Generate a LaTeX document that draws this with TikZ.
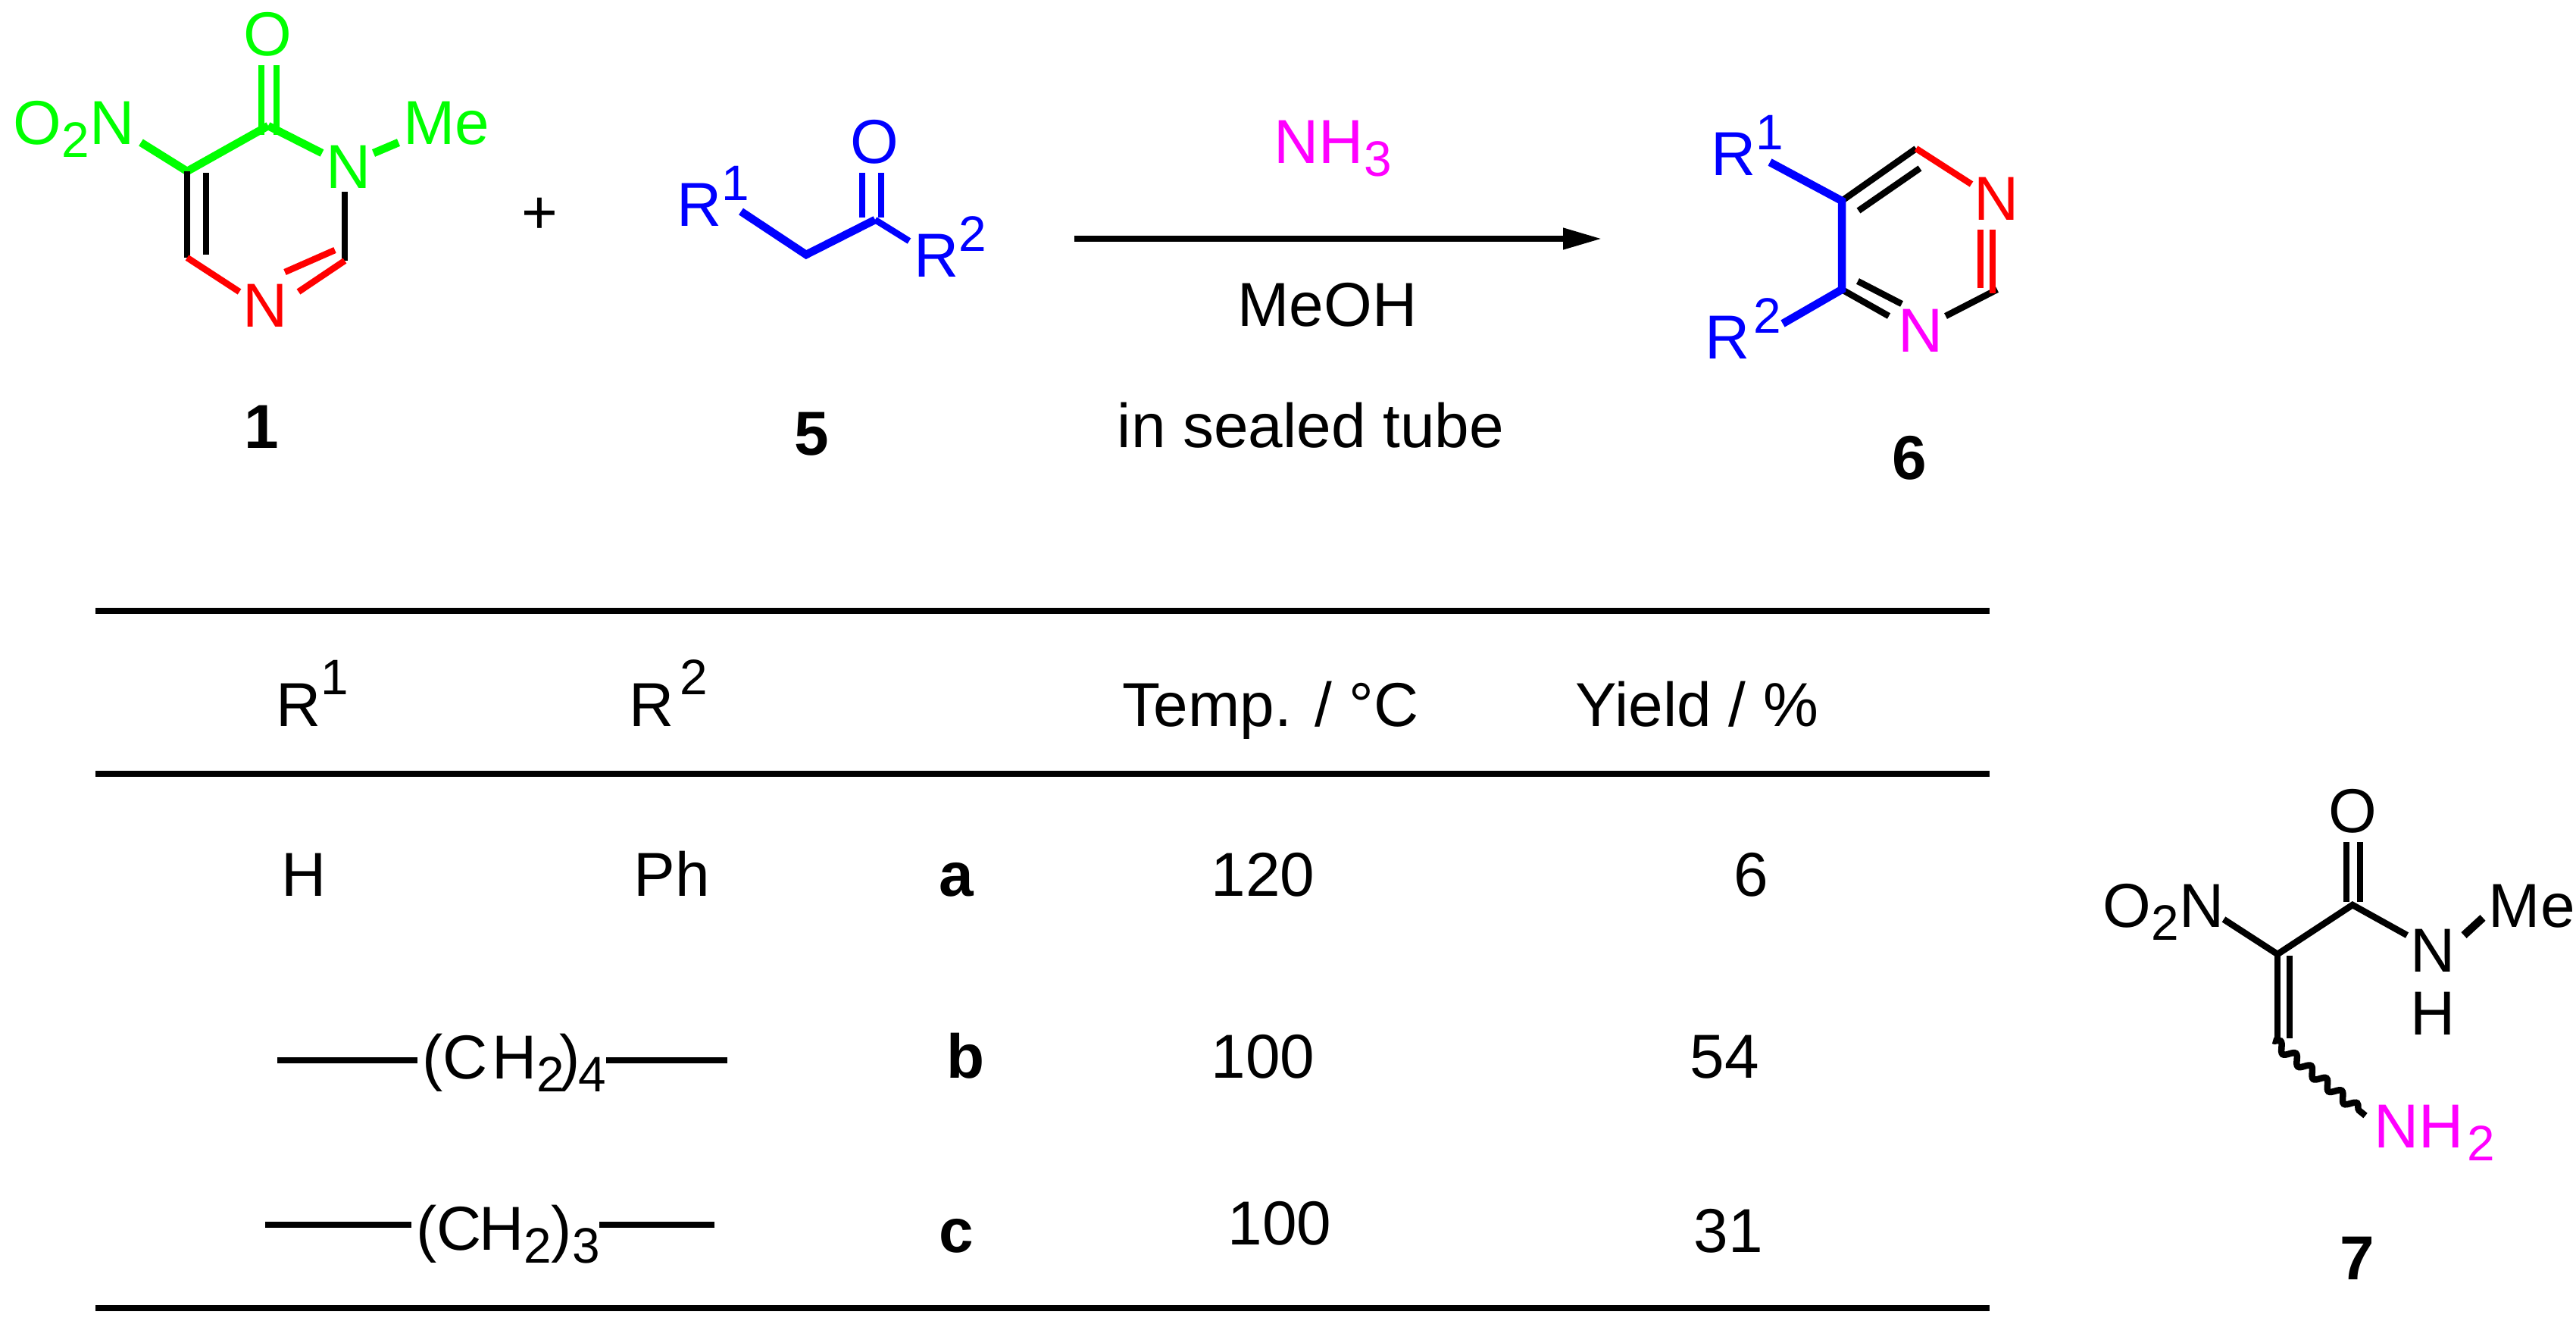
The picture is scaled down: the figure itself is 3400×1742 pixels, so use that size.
\documentclass[tikz,border=0pt]{standalone}
\usepackage{fontspec}
\setmainfont{Liberation Sans}
\usetikzlibrary{arrows.meta,decorations.pathmorphing}
\definecolor{amino}{RGB}{255,0,255}
\newcommand{\subnum}[1]{\raisebox{-0.21em}{\fontsize{18.7pt}{20pt}\selectfont #1}}
\newcommand{\supnum}[2][0.41em]{\raisebox{#1}{\fontsize{18.7pt}{20pt}\selectfont #2}}
\tikzset{
  chem/.style={font=\fontsize{23.3pt}{28pt}\selectfont,inner sep=0pt},
  num/.style={chem,font=\fontsize{23.3pt}{28pt}\selectfont\bfseries},
  bond/.style={line width=0.085cm},
  fatbond/.style={line width=0.105cm},
  rule/.style={line width=0.085cm}
}
\begin{document}
\begin{tikzpicture}[x=0.01cm,y=-0.01cm]
  \useasboundingbox (0,0) rectangle (3400,1742);

  % compound 1
  \node[chem,green,anchor=base west] (nitroA) at (17,190) {O\subnum{2}N};
  \node[chem,green,anchor=base] (oxoA) at (353,73) {O};
  \node[chem,green,anchor=base] (nA) at (460,248) {N};
  \node[chem,green,anchor=base west] (meA) at (532,190) {Me};
  \node[chem,red,anchor=base] (nB) at (350,431) {N};
  \coordinate (c5) at (247,226);
  \coordinate (c4) at (354,166);
  \coordinate (c6) at (247,340);
  \coordinate (c2) at (455,344);
  \draw[fatbond,green] (186,188) coordinate (nitroEnd) -- (c5) -- (c4);
  \draw[fatbond,green] (c4) -- (425,202) coordinate (nAend);
  \draw[bond,green] (345,86) coordinate (oxoL) -- (345,178) coordinate (oxoLb);
  \draw[bond,green] (365,86) coordinate (oxoR) -- (365,178) coordinate (oxoRb);
  \draw[fatbond,green] (493,202) coordinate (meS) -- (526,188) coordinate (meE);
  \draw[bond] (c5) -- (c6);
  \draw[bond] (272,228) coordinate (inA) -- (272,336) coordinate (inB);
  \draw[bond] (455,253) coordinate (c2top) -- (c2);
  \draw[bond,red] (c6) -- (316,385) coordinate (nBl);
  \draw[bond,red] (c2) -- (394,385) coordinate (nBr);
  \draw[bond,red] (442,330) coordinate (inC) -- (376,359) coordinate (inD);
  \node[num,anchor=base] (labA) at (345,591) {1};

  \node[chem,anchor=center] (plus) at (712,285) {+};

  % compound 5
  \node[chem,blue,anchor=base west] (rA) at (893,298) {R\supnum{1}};
  \node[chem,blue,anchor=base] (oxoB) at (1154,215) {O};
  \node[chem,blue,anchor=base west] (rB) at (1206,365) {R\supnum{2}};
  \coordinate (ch2) at (1064,336);
  \coordinate (co) at (1155,290);
  \draw[fatbond,blue] (978,279) coordinate (rAend) -- (ch2) -- (co);
  \draw[bond,blue] (co) -- (1200,318) coordinate (rBend);
  \draw[bond,blue] (1138,228) coordinate (oxoBl) -- (1138,287) coordinate (oxoBlb);
  \draw[bond,blue] (1163,228) coordinate (oxoBr) -- (1163,287) coordinate (oxoBrb);
  \node[num,anchor=base] (labB) at (1071,600) {5};

  % arrow and conditions
  \node[chem,amino,anchor=base west] (ammonia) at (1681,215) {NH\subnum{3}};
  \node[chem,anchor=base] (solvent) at (1752,430) {MeOH};
  \node[chem,anchor=base] (tube) at (1730,590) {in sealed tube};
  \coordinate (arrS) at (1418,315);
  \coordinate (arrE) at (2114,315);
  \draw[line width=0.075cm,-{Triangle[length=0.51cm,width=0.27cm]}] (arrS) -- (arrE);

  % compound 6
  \node[chem,blue,anchor=base west] (rC) at (2258,231) {R\supnum{1}};
  \node[chem,blue,anchor=base west] (rD) at (2250,473) {R\kern0.05cm\supnum{2}};
  \node[chem,red,anchor=base] (nC) at (2635,290) {N};
  \node[chem,amino,anchor=base] (nD) at (2535,464) {N};
  \coordinate (c1r) at (2431,265);
  \coordinate (c2r) at (2431,382);
  \coordinate (c3r) at (2529,196);
  \coordinate (c4r) at (2636,382);
  \draw[bond] (c1r) -- (c3r);
  \draw[bond] (2453,278) coordinate (inE) -- (2534,222) coordinate (inF);
  \draw[bond,red] (c3r) -- (2602,243) coordinate (nCend);
  \draw[bond] (c4r) -- (2568,417) coordinate (nDend);
  \draw[bond,red] (2614,303) coordinate (dbA) -- (2614,380) coordinate (dbB);
  \draw[bond,red] (2630,303) coordinate (dbC) -- (2630,387) coordinate (dbD);
  \draw[bond] (c2r) -- (2493,417) coordinate (nDa);
  \draw[bond] (2452,371) coordinate (inG) -- (2510,401) coordinate (inH);
  \draw[fatbond,blue] (2336,214) coordinate (rCend) -- (c1r) -- (c2r) -- (2353,427) coordinate (rDend);
  \node[num,anchor=base] (labC) at (2520,632) {6};

  % table rules
  \foreach \ry/\rname in {806/top,1021/mid,1726/bot}{
    \coordinate (\rname L) at (126,\ry);
    \coordinate (\rname R) at (2626,\ry);
    \draw[rule] (\rname L) -- (\rname R);
  }

  % table header
  \node[chem,anchor=base west] (hdA) at (364,958) {R\supnum[0.51em]{1}};
  \node[chem,anchor=base west] (hdB) at (830,958) {R\kern0.08cm\supnum[0.51em]{2}};
  \node[chem,anchor=base west] (hdC) at (1481,958) {Temp. / °C};
  \node[chem,anchor=base west] (hdD) at (2079,958) {Yield / \%};

  % row a
  \node[chem,anchor=base] (hA) at (401,1182) {H};
  \node[chem,anchor=base] (phA) at (887,1182) {Ph};
  \node[num,anchor=base] (rowA) at (1262,1182) {a};
  \node[chem,anchor=base] (tA) at (1667,1182) {120};
  \node[chem,anchor=base] (yA) at (2311,1182) {6};

  % row b
  \node[chem,anchor=base west] (chB) at (557,1423) {(C\kern0.05cm H\subnum{2}\kern-0.06cm)\kern-0.03cm\subnum{4}};
  \coordinate (bS) at (366,1399);
  \coordinate (bE) at (960,1399);
  \draw[rule] (bS) -- (551,1399) coordinate (bSe);
  \draw[rule] (800,1399) coordinate (bEs) -- (bE);
  \node[num,anchor=base] (rowB) at (1275,1422) {b};
  \node[chem,anchor=base] (tB) at (1667,1422) {100};
  \node[chem,anchor=base] (yB) at (2276,1422) {54};

  % row c
  \node[chem,anchor=base west] (chC) at (549,1649) {(C\kern-0.04cm H\subnum{2})\subnum{3}};
  \coordinate (cS) at (350,1616);
  \coordinate (cE) at (943,1616);
  \draw[rule] (cS) -- (543,1616) coordinate (cSe);
  \draw[rule] (791,1616) coordinate (cEs) -- (cE);
  \node[num,anchor=base] (rowC) at (1262,1652) {c};
  \node[chem,anchor=base] (tC) at (1689,1642) {100};
  \node[chem,anchor=base] (yC) at (2281,1652) {31};

  % compound 7
  \node[chem,anchor=base west] (nitroD) at (2775,1223) {O\subnum{2}N};
  \node[chem,anchor=base] (oxoD) at (3105,1098) {O};
  \node[chem,anchor=base] (nE) at (3211,1282) {N};
  \node[chem,anchor=base] (hE) at (3211,1365) {H};
  \node[chem,anchor=base west] (meD) at (3284,1223) {Me};
  \node[chem,amino,anchor=base west] (amine) at (3133,1514) {NH\kern0.04cm\subnum{2}};
  \coordinate (cv) at (3006,1259);
  \coordinate (cw) at (3105,1194);
  \coordinate (cu) at (3006,1370);
  \draw[bond] (2935,1213) coordinate (nitroDend) -- (cv) -- (cw) -- (3177,1234) coordinate (nEend);
  \draw[bond] (3097,1111) coordinate (oxoDl) -- (3097,1190) coordinate (oxoDlb);
  \draw[bond] (3115,1111) coordinate (oxoDr) -- (3115,1190) coordinate (oxoDrb);
  \draw[fatbond] (3252,1234) coordinate (meDs) -- (3277,1211) coordinate (meDe);
  \draw[bond] (cv) -- (cu);
  \draw[bond] (3022,1261) coordinate (inJ) -- (3022,1370) coordinate (inK);
  \coordinate (wavS) at (3000,1373);
  \coordinate (wavE) at (3122,1472);
  \draw[bond,decorate,decoration={snake,segment length=0.26cm,amplitude=0.06cm}] (wavS) -- (wavE);
  \node[num,anchor=base] (labD) at (3111,1688) {7};
\end{tikzpicture}
\end{document}
